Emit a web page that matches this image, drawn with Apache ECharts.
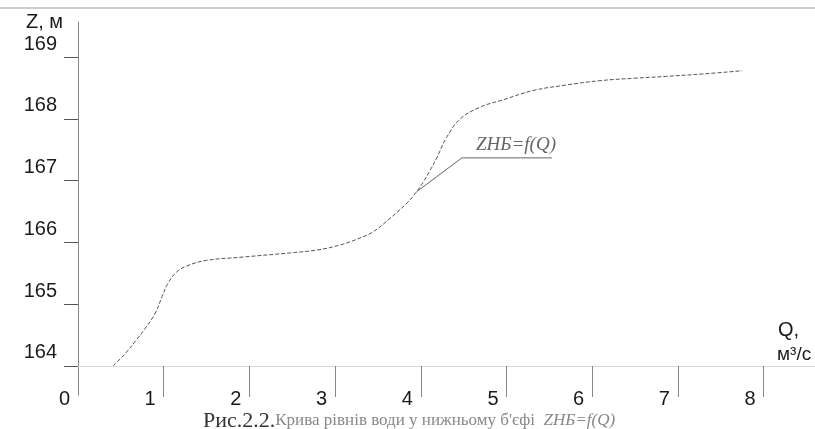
<!DOCTYPE html>
<html>
<head>
<meta charset="utf-8">
<script src="https://cdn.jsdelivr.net/npm/echarts@6/dist/echarts.min.js"></script>
<style>html,body{margin:0;padding:0;background:#fff;}#c{width:815px;height:429px;}</style>
</head>
<body>
<div id="c"></div>
<script>
// Curve Z = f(Q)
const flowQ = [0.41, 0.55, 0.68, 0.78, 0.9, 0.98, 1.05, 1.15, 1.27, 1.5, 1.89, 2.47, 2.8, 3.06, 3.25, 3.44, 3.64, 3.84, 3.95, 4.03, 4.11, 4.19, 4.3, 4.46, 4.69, 4.96, 5.31, 5.7, 6.09, 6.5, 6.87, 7.3, 7.75];
const levelZ = [164.0, 164.2, 164.42, 164.6, 164.85, 165.12, 165.34, 165.52, 165.62, 165.71, 165.76, 165.83, 165.88, 165.96, 166.05, 166.17, 166.39, 166.64, 166.82, 166.98, 167.17, 167.38, 167.7, 168.0, 168.19, 168.31, 168.46, 168.55, 168.62, 168.66, 168.69, 168.73, 168.78];
// Annotation leader
const leaderQ = [3.95, 4.48, 5.53];
const leaderZ = [166.82, 167.37, 167.37];
// Tick labels
const xTicks = [1, 2, 3, 4, 5, 6, 7, 8];
const xLabels = [0, 1, 2, 3, 4, 5, 6, 7, 8];
const yTicks = [164, 165, 166, 167, 168, 169];

const curve = flowQ.map((q, i) => [q, levelZ[i]]);
const leader = leaderQ.map((q, i) => [q, leaderZ[i]]);

const chart = echarts.init(document.getElementById('c'), null, {renderer: 'canvas'});
const sans = 'Liberation Sans, Arial, sans-serif';
const serif = 'Liberation Serif, Times New Roman, serif';
chart.setOption({
  animation: false,
  backgroundColor: '#fff',
  grid: [
    {left: 78, right: 0, top: 22, bottom: 34},
    {left: 65, right: 0, top: 22, bottom: 63}
  ],
  xAxis: [
    {gridIndex: 0, type: 'value', min: 0, max: 8.6, show: false},
    {gridIndex: 1, type: 'value', min: -0.152, max: 8.6,
      axisLine: {show: true, lineStyle: {color: '#d8d8d8', width: 1}},
      axisTick: {show: true, length: 31, customValues: xTicks, lineStyle: {color: '#888', width: 1}},
      axisLabel: {customValues: xLabels, align: 'right', padding: [0, 8, 0, 0], margin: 23,
        fontSize: 20, fontFamily: sans, color: '#1a1a1a'},
      splitLine: {show: false}}
  ],
  yAxis: [
    {gridIndex: 0, type: 'value', min: 163.53, max: 169.57,
      axisLine: {show: true, lineStyle: {color: '#888', width: 1}},
      axisTick: {show: true, length: 14, customValues: yTicks, lineStyle: {color: '#555', width: 1}},
      axisLabel: {customValues: yTicks, margin: 21, verticalAlign: 'bottom', lineHeight: 26,
        fontSize: 20, fontFamily: sans, color: '#1a1a1a'},
      splitLine: {show: false}}
    ,
    {gridIndex: 1, type: 'value', min: 0, max: 1, show: false}
  ],
  title: [
    {text: 'Z, м', left: 21, top: 7, textStyle: {fontSize: 20, fontWeight: 'normal', fontFamily: sans, color: '#1a1a1a'}},
    {text: 'Q,', left: 773, top: 315, textStyle: {fontSize: 20, fontWeight: 'normal', fontFamily: sans, color: '#1a1a1a'}},
    {text: 'м³/с', left: 772, top: 340, textStyle: {fontSize: 19, fontWeight: 'normal', fontFamily: sans, color: '#1a1a1a'}},
    {text: 'ZНБ=f(Q)', left: 471, top: 130, textStyle: {fontSize: 19, fontStyle: 'italic', fontWeight: 'normal', fontFamily: serif, color: '#666'}},
    {text: '{a|Рис.2.2.}{b|Крива рівнів води у нижньому б\'єфі  }{c|ZНБ=f(Q)}', left: 198, top: 404,
      textStyle: {fontWeight: 'normal', rich: {
        a: {fontSize: 22, fontFamily: serif, fontWeight: 'normal', color: '#333', lineHeight: 24},
        b: {fontSize: 17, fontFamily: serif, fontWeight: 'normal', color: '#888', lineHeight: 24},
        c: {fontSize: 17, fontFamily: serif, fontWeight: 'normal', fontStyle: 'italic', color: '#888', lineHeight: 24}
      }}}
  ],
  graphic: [
    {type: 'line', shape: {x1: 0, y1: 8, x2: 815, y2: 8}, style: {stroke: '#999', lineWidth: 1}}
  ],
  series: [
    {type: 'line', xAxisIndex: 0, yAxisIndex: 0, data: curve, smooth: 0.4, symbol: 'none',
      lineStyle: {color: '#555', width: 1, type: [4, 2]}},
    {type: 'line', xAxisIndex: 0, yAxisIndex: 0, data: leader, smooth: false, symbol: 'none',
      lineStyle: {color: '#666', width: 1}}
  ]
});
</script>
</body>
</html>
